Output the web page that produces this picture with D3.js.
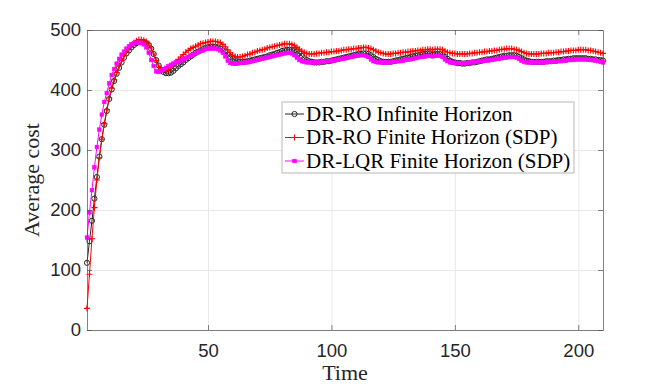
<!DOCTYPE html>
<html>
<head>
<meta charset="utf-8">
<script src="https://cdn.jsdelivr.net/npm/d3@7"></script>
<style>
  body { margin: 0; background: #fff; }
  svg { display: block; }
</style>
</head>
<body>
<svg id="chart"></svg>
<script>
// Values, one per time step (t = 1..210)
const infiniteRO = [
  112,148,182,219,255,289,318,342,365,385,
  401,415,427,437,446,454,461,466,471,475,
  478,480,480,480,478,475,469,460,450,441,
  434,430,428,428,429,432,436,440,443,446,
  450,453,456,459,462,464,466,468,470,471,
  472,472,472,471,469,466,463,459,455,452,
  450,448,447,447,447,448,449,450,451,452,
  453,454,455,456,458,459,460,462,463,465,
  466,467,467,467,466,464,461,457,453,450,
  448,447,446,446,446,447,447,448,448,449,
  450,451,452,453,454,455,456,457,458,459,
  460,460,461,461,460,458,455,452,450,448,
  447,447,447,447,448,449,450,451,452,453,
  454,455,456,457,458,459,460,460,461,461,
  459,460,460,460,458,455,452,449,447,446,
  445,445,444,444,445,445,446,446,447,448,
  449,450,451,451,452,453,454,455,456,457,
  457,458,458,458,457,455,453,451,449,448,
  447,447,447,447,447,447,448,448,448,449,
  449,450,450,451,451,452,452,453,453,453,
  453,453,453,452,452,451,451,450,450,449
];
const finiteRO = [
  36,93,152,204,250,287,318,344,367,387,
  403,417,429,440,449,457,464,470,475,479,
  482,484,484,483,481,477,470,460,449,440,
  435,433,433,434,437,441,446,451,455,459,
  463,466,469,471,473,475,477,478,479,480,
  481,481,481,480,479,476,472,467,462,458,
  456,455,455,456,457,459,460,462,463,465,
  466,467,468,470,471,472,473,474,475,476,
  477,477,477,476,474,471,468,465,463,461,
  460,460,460,461,461,462,462,463,463,464,
  464,465,465,466,467,467,468,468,469,469,
  470,470,471,471,470,469,467,465,463,462,
  461,460,460,460,461,461,462,462,463,463,
  464,464,465,465,466,466,467,467,468,468,
  467,468,468,468,467,465,463,462,461,461,
  460,460,460,460,460,461,461,462,462,463,
  463,464,464,465,465,466,466,467,468,468,
  469,469,469,468,467,466,464,462,461,460,
  460,460,460,460,461,461,461,462,462,462,
  463,463,464,464,465,465,466,466,466,467,
  467,467,467,466,466,465,464,463,462,461
];
const finiteLQR = [
  154,196,233,271,305,334,359,380,395,411,
  425,435,444,452,459,464,469,473,476,478,
  479,479,478,476,471,462,450,440,431,430,
  432,434,437,440,442,444,446,447,449,451,
  453,455,457,459,461,463,465,466,468,469,
  469,469,469,468,466,462,456,449,445,444,
  444,444,445,445,446,446,447,448,449,450,
  451,452,453,454,455,456,457,458,459,460,
  461,462,462,461,458,454,450,448,447,446,
  446,446,446,446,446,447,447,448,448,449,
  449,450,451,452,452,453,454,455,456,457,
  457,458,458,457,455,451,448,447,446,446,
  446,446,446,446,447,447,448,448,449,450,
  451,451,452,453,454,455,455,456,457,457,
  456,457,457,457,455,451,448,446,446,445,
  445,445,445,445,445,446,446,447,447,448,
  448,449,449,450,450,451,452,452,453,454,
  454,455,455,455,454,452,449,447,446,446,
  446,446,446,446,446,446,446,447,447,447,
  447,448,448,449,449,450,450,450,451,451,
  451,451,451,451,450,450,449,448,447,446
];
const seriesNames = ["DR-RO Infinite Horizon", "DR-RO Finite Horizon (SDP)", "DR-LQR Finite Horizon (SDP)"];
const xTicks = [50, 100, 150, 200];
const yTicks = [0, 100, 200, 300, 400, 500];

const W = 664, H = 386;
const margin = { top: 30, right: 61, bottom: 56, left: 87 };
const width = W - margin.left - margin.right;
const height = H - margin.top - margin.bottom;

const root = d3.select("#chart").attr("width", W).attr("height", H);
const svg = root.append("g").attr("transform", `translate(${margin.left},${margin.top})`);

const time = d3.range(1, infiniteRO.length + 1);
const x = d3.scaleLinear().domain([1, 210]).range([0, width]);
const y = d3.scaleLinear().domain([0, 500]).range([height, 0]);

const axisColor = "#262626";
const tickFont = "'Liberation Sans', Arial, sans-serif";
const serif = "'Liberation Serif', 'Times New Roman', serif";

// grid
svg.append("g")
  .attr("transform", `translate(0,${height})`)
  .call(d3.axisBottom(x).tickValues(xTicks).tickSize(-height).tickFormat(""))
  .call(g => g.select(".domain").remove())
  .call(g => g.selectAll("line").attr("stroke", "#e8e8e8"));
svg.append("g")
  .call(d3.axisLeft(y).tickValues(yTicks).tickSize(-width).tickFormat(""))
  .call(g => g.select(".domain").remove())
  .call(g => g.selectAll("line").attr("stroke", "#e8e8e8"));

// series
const series = [
  { name: seriesNames[0], values: infiniteRO, color: "#262626", marker: "circle" },
  { name: seriesNames[1], values: finiteRO, color: "#ff0000", marker: "plus" },
  { name: seriesNames[2], values: finiteLQR, color: "#ff00ff", marker: "square" }
];

const line = d3.line().x((d, i) => x(time[i])).y(d => y(d));

function drawMarker(sel, s) {
  if (s.marker === "circle") {
    sel.append("circle").attr("r", 2.6).attr("fill", "none")
      .attr("stroke", s.color).attr("stroke-width", 1);
  } else if (s.marker === "plus") {
    sel.append("path").attr("d", "M-3,0H3M0,-3V3")
      .attr("stroke", s.color).attr("stroke-width", 1.1);
  } else {
    sel.append("rect").attr("x", -1.8).attr("y", -1.8).attr("width", 3.6).attr("height", 3.6)
      .attr("fill", s.color).attr("stroke", s.color).attr("stroke-width", 0.6);
  }
}

series.forEach(s => {
  svg.append("path")
    .datum(s.values)
    .attr("fill", "none")
    .attr("stroke", s.color)
    .attr("stroke-width", 1)
    .attr("d", line);
  svg.append("g").selectAll("g")
    .data(s.values)
    .enter().append("g")
    .attr("transform", (d, i) => `translate(${x(time[i])},${y(d)})`)
    .each(function () { drawMarker(d3.select(this), s); });
});

// axes (ticks pointing inward, box on)
const axes = svg.append("g").attr("class", "axes");
axes.append("g")
  .attr("transform", `translate(0,${height})`)
  .call(d3.axisBottom(x).tickValues(xTicks).tickSize(-5).tickPadding(14).tickSizeOuter(0));
axes.append("g")
  .call(d3.axisLeft(y).tickValues(yTicks).tickSize(-5).tickPadding(6).tickSizeOuter(0));
axes.append("g")
  .call(d3.axisTop(x).tickValues(xTicks).tickSize(-5).tickFormat("").tickSizeOuter(0));
axes.append("g")
  .attr("transform", `translate(${width},0)`)
  .call(d3.axisRight(y).tickValues(yTicks).tickSize(-5).tickFormat("").tickSizeOuter(0));

axes.selectAll(".domain, .tick line").attr("stroke", "#4d4d4d").attr("stroke-width", 0.7);
axes.selectAll(".tick text")
  .attr("fill", axisColor)
  .style("font-family", tickFont)
  .style("font-size", "18.5px");

// axis labels
svg.append("text")
  .attr("x", width / 2).attr("y", height + 50)
  .attr("text-anchor", "middle")
  .style("font-family", serif).style("font-size", "22px")
  .attr("fill", axisColor)
  .text("Time");
svg.append("text")
  .attr("transform", `translate(${-48},${height / 2}) rotate(-90)`)
  .attr("text-anchor", "middle")
  .style("font-family", serif).style("font-size", "22px")
  .attr("fill", axisColor)
  .text("Average cost");

// legend
const legend = root.append("g").attr("transform", "translate(282,102)");
legend.append("rect")
  .attr("width", 292).attr("height", 71)
  .attr("fill", "#fff").attr("stroke", "#a6a6a6").attr("stroke-width", 0.8);
series.forEach((s, i) => {
  const row = legend.append("g").attr("transform", `translate(0,${12 + i * 23.5})`);
  row.append("line").attr("x1", 3).attr("x2", 22).attr("stroke", s.color).attr("stroke-width", 1);
  drawMarker(row.append("g").attr("transform", "translate(12.5,0)"), s);
  row.append("text")
    .attr("x", 24).attr("y", 6.5)
    .style("font-family", serif).style("font-size", "21px")
    .attr("fill", "#000")
    .text(s.name);
});
</script>
</body>
</html>
